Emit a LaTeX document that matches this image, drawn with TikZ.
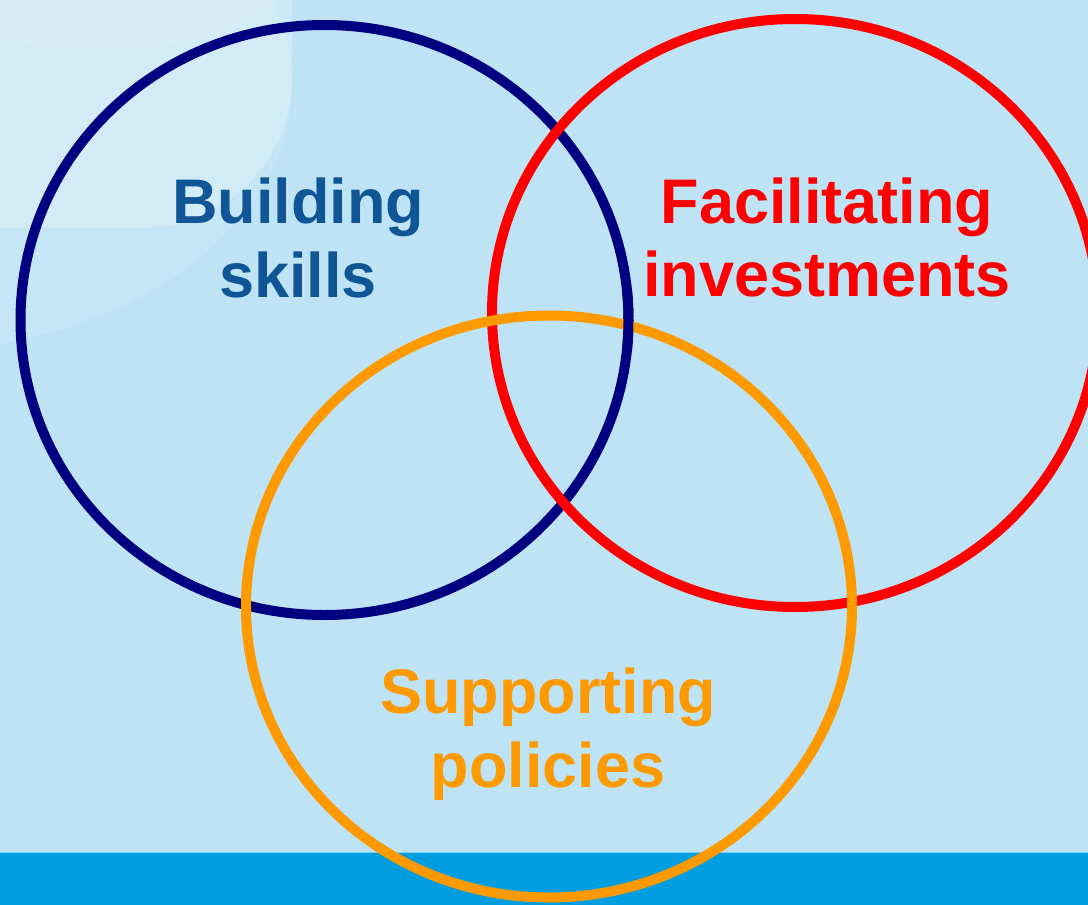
\documentclass[tikz,border=0pt]{standalone}
\usepackage{fontspec}
\setmainfont{Liberation Sans}
\definecolor{bgblue}{RGB}{189,227,245}
\definecolor{barblue}{RGB}{0,158,224}
\definecolor{barline}{RGB}{120,210,242}
\definecolor{navyline}{RGB}{0,0,128}
\definecolor{navytext}{RGB}{16,85,150}
\definecolor{redline}{RGB}{255,0,0}
\definecolor{orangeline}{RGB}{255,153,0}
\tikzset{
  ring/.style={line width=10pt},
  label/.style={font=\bfseries\fontsize{63}{69}\selectfont, anchor=base, inner sep=0pt},
}
\begin{document}
\begin{tikzpicture}[x=1pt,y=-1pt]
\clip (0,0) rectangle (1088,905);
\fill[bgblue] (0,0) rectangle (1088,905);
% soft light decorations, top left
\fill[white,opacity=0.13] (-100,85) ellipse [x radius=392, y radius=268];
\fill[white,opacity=0.22] (-300,-300) [rounded corners=150] rectangle (292,228);
\fill[white,opacity=0.12] (100,-40) ellipse [x radius=200, y radius=92];
% bottom bar
\fill[barblue] (0,852) rectangle (1088,905);
\draw[barline, line width=1.2pt] (0,852.5) -- (1088,852.5);
% rings
\draw[ring, navyline] (324.5,320) ellipse [x radius=304, y radius=295];
\draw[ring, redline] (795,313) ellipse [x radius=303, y radius=294];
\draw[ring, orangeline] (549,606.5) ellipse [x radius=303, y radius=291];
\begin{scope}
\clip (600,290) rectangle (660,350);
\draw[ring, navyline] (324.5,320) ellipse [x radius=304, y radius=295];
\end{scope}
% labels
\node[label, navytext] (b1) at (298,223) {Building};
\node[label, navytext] (b2) at (298,297) {skills};
\node[label, redline] (f1) at (827,223) {Facilitating};
\node[label, redline] (f2) at (827,296) {investments};
\node[label, orangeline] (s1) at (548,713) {Supporting};
\node[label, orangeline] (s2) at (548,787) {policies};
\end{tikzpicture}
\end{document}
